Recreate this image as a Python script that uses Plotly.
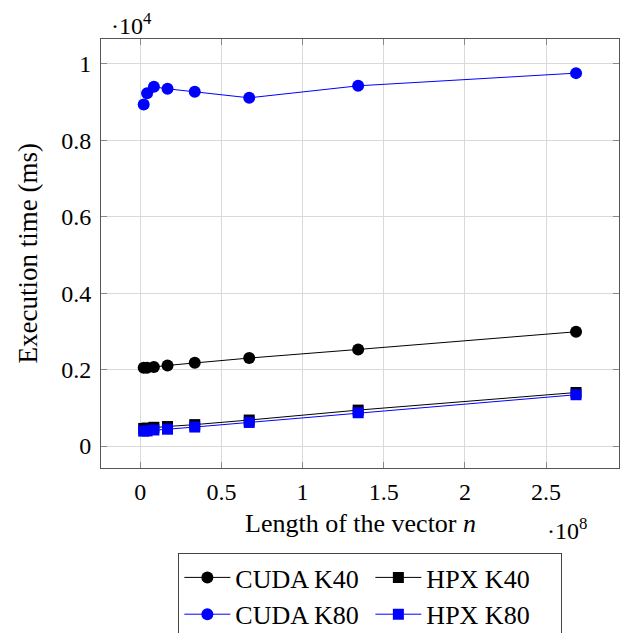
import plotly.graph_objects as go

n_values = [2**21, 2**22, 2**23, 2**24, 2**25, 2**26, 2**27, 2**28]
cuda_k40 = [2048, 2050, 2066, 2109, 2179, 2302, 2527, 2990]
hpx_k40 = [460, 470, 490, 510, 560, 680, 940, 1400]
cuda_k80 = [8935, 9233, 9398, 9346, 9268, 9111, 9425, 9757]
hpx_k80 = [390, 395, 420, 440, 497, 617, 871, 1342]

x_tickvals = [0, 0.5e8, 1.0e8, 1.5e8, 2.0e8, 2.5e8]
x_ticktext = ["0", "0.5", "1", "1.5", "2", "2.5"]
y_tickvals = [0, 2000, 4000, 6000, 8000, 10000]
y_ticktext = ["0", "0.2", "0.4", "0.6", "0.8", "1"]

FONT = "Liberation Serif"

fig = go.Figure()
series = [
    ("CUDA K40", cuda_k40, "black", "circle", 12),
    ("HPX K40", hpx_k40, "black", "square", 11),
    ("CUDA K80", cuda_k80, "blue", "circle", 12),
    ("HPX K80", hpx_k80, "blue", "square", 11),
]
for name, ys, color, sym, sz in series:
    fig.add_trace(go.Scatter(
        x=n_values, y=ys, name=name, mode="lines+markers",
        line=dict(color=color, width=1),
        marker=dict(color=color, symbol=sym, size=sz, line=dict(width=0)),
    ))

axis_common = dict(
    showline=True, linecolor="#555555", linewidth=1, mirror="ticks",
    ticks="inside", ticklen=6, tickcolor="#8a8a8a", tickwidth=1,
    showgrid=True, gridcolor="#d9d9d9", gridwidth=1, zeroline=False,
    tickfont=dict(family=FONT, size=24, color="black"),
    automargin=False,
)

# the page body adds an 8px offset, so the figure is 8px smaller and shifted
fig.update_layout(
    width=622, height=625,
    margin=dict(l=93, r=11, t=31, b=164.5),
    paper_bgcolor="white", plot_bgcolor="white",
    font=dict(family=FONT, size=24, color="black"),
    xaxis=dict(range=[-0.242e8, 2.949e8], tickvals=x_tickvals, ticktext=x_ticktext,
               ticklabelstandoff=2, **axis_common),
    yaxis=dict(range=[-575, 10650], tickvals=y_tickvals, ticktext=y_ticktext,
               ticklabelstandoff=4, **axis_common),
    showlegend=True,
    legend=dict(
        orientation="h", xref="paper", x=0.52, xanchor="center",
        yref="container", y=1 - 545 / 625, yanchor="top",
        bordercolor="#444444", borderwidth=1, bgcolor="white",
        font=dict(family=FONT, size=26, color="black"),
        entrywidth=130, entrywidthmode="pixels", tracegroupgap=0,
        itemwidth=46,
    ),
    annotations=[
        dict(text="·10<sup>4</sup>", xref="paper", yref="paper", x=0.058, y=1.036,
             xanchor="center", yanchor="middle", showarrow=False,
             font=dict(family=FONT, size=24, color="black")),
        dict(text="·10<sup>8</sup>", xref="paper", yref="paper", x=0.900, y=-0.143,
             xanchor="center", yanchor="middle", showarrow=False,
             font=dict(family=FONT, size=24, color="black")),
        dict(text="Length of the vector <i>n</i>", xref="paper", yref="paper", x=0.5, y=-0.13,
             xanchor="center", yanchor="middle", showarrow=False,
             font=dict(family=FONT, size=26, color="black")),
        dict(text="Execution time (ms)", xref="paper", yref="paper", x=-0.141, y=0.5,
             xanchor="center", yanchor="middle", showarrow=False, textangle=-90,
             font=dict(family=FONT, size=27, color="black")),
    ],
)

fig.write_html("out.html")
